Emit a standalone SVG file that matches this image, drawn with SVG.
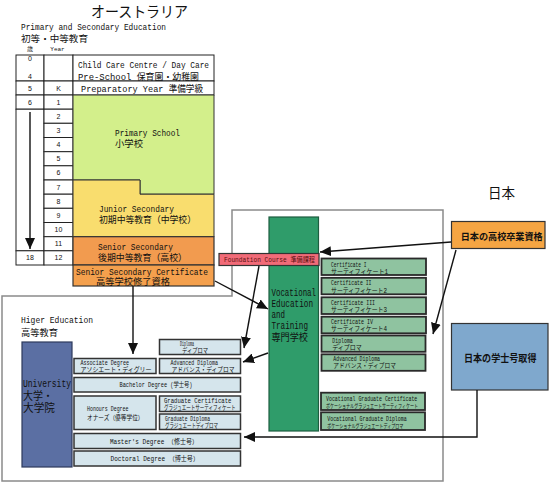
<svg xmlns="http://www.w3.org/2000/svg" width="550" height="482" viewBox="0 0 550 482">
<style>
text{font-family:"Liberation Mono","Noto Sans CJK JP",monospace;fill:#111}
.jp{font-family:"Noto Sans CJK JP",sans-serif}
.num{font-family:"Liberation Sans","Noto Sans CJK JP",sans-serif}
.tl{stroke:#222;stroke-width:1;fill:#fff}
.hb{fill:#d5e5ec;stroke:#333;stroke-width:1.5}
.cb{fill:#8fc3a0;stroke:#2a2a2a;stroke-width:1.8}
.ln{stroke:#111;stroke-width:1.4;fill:none}
.s7{font-size:7px}
.s6{font-size:6.5px}
.s9{font-size:9.5px}
.c{text-anchor:middle}
</style>
<defs>
<marker id="ah" markerUnits="userSpaceOnUse" markerWidth="11" markerHeight="10" refX="11" refY="5" orient="auto">
<path d="M0,0 L11,5 L0,10 z" fill="#111"/>
</marker>
</defs>

<!-- titles -->
<text class="jp" x="91" y="17" font-size="15" textLength="97" lengthAdjust="spacingAndGlyphs">オーストラリア</text>
<text class="s9" x="21" y="30" textLength="145" lengthAdjust="spacingAndGlyphs">Primary and Secondary Education</text>
<text class="s9" x="21" y="42" textLength="67" lengthAdjust="spacingAndGlyphs">初等・中等教育</text>
<text x="30" y="51" font-size="6" class="c">歳</text>
<text x="57.5" y="51" font-size="6" class="c">Year</text>

<!-- frames -->
<polygon points="2,296 232,296 232,210 443,210 443,481 2,481" fill="none" stroke="#8a8a8a" stroke-width="1.5"/>

<!-- age / year table -->
<g id="age-table">
<rect class="tl" x="16" y="55" width="28" height="26"/>
<rect class="tl" x="16" y="81" width="28" height="14"/>
<rect class="tl" x="16" y="95" width="28" height="14.2"/>
<rect class="tl" x="16" y="109.2" width="28" height="141.6"/>
<rect class="tl" x="16" y="250.8" width="28" height="14.2"/>
<rect class="tl" x="44" y="55" width="29" height="26"/>
<rect class="tl" x="44" y="81" width="29" height="14"/>
<rect class="tl" x="44" y="95" width="29" height="14.2"/>
<rect class="tl" x="44" y="109.2" width="29" height="14.1"/>
<rect class="tl" x="44" y="123.3" width="29" height="14.2"/>
<rect class="tl" x="44" y="137.5" width="29" height="14.2"/>
<rect class="tl" x="44" y="151.7" width="29" height="14.1"/>
<rect class="tl" x="44" y="165.8" width="29" height="14.2"/>
<rect class="tl" x="44" y="180" width="29" height="14.2"/>
<rect class="tl" x="44" y="194.2" width="29" height="14.1"/>
<rect class="tl" x="44" y="208.3" width="29" height="14.2"/>
<rect class="tl" x="44" y="222.5" width="29" height="14.2"/>
<rect class="tl" x="44" y="236.7" width="29" height="14.1"/>
<rect class="tl" x="44" y="250.8" width="29" height="14.2"/>
<g class="s7 num">
<text class="c num" x="30" y="61">0</text>
<text class="c num" x="30" y="79">4</text>
<text class="c num" x="30" y="91">5</text>
<text class="c num" x="58.5" y="91">K</text>
<text class="c num" x="30" y="104.6">6</text>
<text class="c num" x="30" y="260.4">18</text>
<text class="c num" x="58.5" y="104.6">1</text>
<text class="c num" x="58.5" y="118.8">2</text>
<text class="c num" x="58.5" y="132.9">3</text>
<text class="c num" x="58.5" y="147.1">4</text>
<text class="c num" x="58.5" y="161.3">5</text>
<text class="c num" x="58.5" y="175.4">6</text>
<text class="c num" x="58.5" y="189.6">7</text>
<text class="c num" x="58.5" y="203.8">8</text>
<text class="c num" x="58.5" y="217.9">9</text>
<text class="c num" x="58.5" y="232.1">10</text>
<text class="c num" x="58.5" y="246.3">11</text>
<text class="c num" x="58.5" y="260.4">12</text>
</g>
</g>

<g id="childcare">
<rect class="tl" x="73" y="55" width="141" height="26"/>
<text class="s9" x="78" y="68" textLength="131" lengthAdjust="spacingAndGlyphs">Child Care Centre / Day Care</text>
<text class="s9" x="78" y="79.5" textLength="121" lengthAdjust="spacingAndGlyphs">Pre-School 保育園・幼稚園</text>
</g>
<g id="preparatory">
<rect class="tl" x="73" y="81" width="141" height="14"/>
<text class="s9" x="81" y="91.5" textLength="122" lengthAdjust="spacingAndGlyphs">Preparatory Year 準備学級</text>
</g>
<g id="primary">
<path d="M73,95 H214 V194.2 H140 V180 H73 Z" fill="#d3ef8b" stroke="#333" stroke-width="1"/>
<text class="s9" x="115" y="136" textLength="65" lengthAdjust="spacingAndGlyphs">Primary School</text>
<text class="s9" x="115" y="147" textLength="28" lengthAdjust="spacingAndGlyphs">小学校</text>
</g>
<g id="junior">
<path d="M73,180 H140 V194.2 H214 V236.7 H73 Z" fill="#f9dd6e" stroke="#333" stroke-width="1"/>
<text class="s9" x="99" y="212" textLength="75" lengthAdjust="spacingAndGlyphs">Junior Secondary</text>
<text class="s9" x="99" y="223" textLength="97" lengthAdjust="spacingAndGlyphs">初期中等教育（中学校）</text>
</g>
<g id="senior">
<rect x="73" y="236.7" width="141" height="28.3" fill="#f29b4f" stroke="#333" stroke-width="1.2"/>
<text class="s9" x="98" y="249.5" textLength="75" lengthAdjust="spacingAndGlyphs">Senior Secondary</text>
<text class="s9" x="98" y="260.5" textLength="89" lengthAdjust="spacingAndGlyphs">後期中等教育（高校）</text>
</g>
<g id="ssc">
<rect x="73" y="265" width="141" height="21" fill="#f4a04d" stroke="#333" stroke-width="1.2"/>
<text class="s9" x="76" y="275" textLength="132" lengthAdjust="spacingAndGlyphs">Senior Secondary Certificate</text>
<text class="s9" x="96" y="284.5" textLength="74" lengthAdjust="spacingAndGlyphs">高等学校修了資格</text>
</g>

<!-- Higher education -->
<text class="s9" x="21" y="323" textLength="72" lengthAdjust="spacingAndGlyphs">Higer Education</text>
<text class="s9" x="21" y="336" textLength="37" lengthAdjust="spacingAndGlyphs">高等教育</text>

<g id="university">
<rect x="22" y="342" width="50" height="125" fill="#5b6fa3" stroke="#2d3a5c" stroke-width="1.2"/>
<text x="23" y="387" font-size="11" textLength="48" lengthAdjust="spacingAndGlyphs">University</text>
<text x="23" y="399.5" font-size="11" textLength="30" lengthAdjust="spacingAndGlyphs">大学・</text>
<text x="23" y="412" font-size="11" textLength="32" lengthAdjust="spacingAndGlyphs">大学院</text>
</g>
<g id="he-diploma">
<rect class="hb" x="159.5" y="339.5" width="81" height="15"/>
<text class="s6" x="180" y="346" textLength="14" lengthAdjust="spacingAndGlyphs">Diploma</text>
<text class="s6" x="182" y="353" textLength="26" lengthAdjust="spacingAndGlyphs">ディプロマ</text>
</g>
<g id="associate">
<rect class="hb" x="74" y="358.5" width="82" height="15"/>
<text class="s6" x="80.5" y="365" textLength="48.5" lengthAdjust="spacingAndGlyphs">Associate Degree</text>
<text class="s6" x="80.5" y="372" textLength="71" lengthAdjust="spacingAndGlyphs">アソシエート・ディグリー</text>
</g>
<g id="he-advdiploma">
<rect class="hb" x="159.5" y="358.5" width="81" height="15"/>
<text class="s6" x="170.5" y="365" textLength="47.5" lengthAdjust="spacingAndGlyphs">Advanced Diploma</text>
<text class="s6" x="171.5" y="372" textLength="63" lengthAdjust="spacingAndGlyphs">アドバンス・ディプロマ</text>
</g>
<g id="bachelor">
<rect class="hb" x="74" y="377.5" width="166.5" height="14.5"/>
<text class="s6" x="119.5" y="387" textLength="73" lengthAdjust="spacingAndGlyphs">Bachelor Degree (学士号)</text>
</g>
<g id="honours">
<rect class="hb" x="74" y="396" width="82" height="33.5"/>
<text class="s6" x="87" y="411" textLength="41.5" lengthAdjust="spacingAndGlyphs">Honours Degree</text>
<text class="s6" x="87" y="420" textLength="56.5" lengthAdjust="spacingAndGlyphs">オナーズ（優等学位）</text>
</g>
<g id="gradcert">
<rect class="hb" x="159.5" y="396" width="81" height="15.5"/>
<text class="s6" x="164" y="403" textLength="67.5" lengthAdjust="spacingAndGlyphs">Graduate Certificate</text>
<text class="s6" x="164" y="410" textLength="71.5" lengthAdjust="spacingAndGlyphs">グラジュエートサーティフィケート</text>
</g>
<g id="graddip">
<rect class="hb" x="159.5" y="414" width="81" height="15.5"/>
<text class="s6" x="165" y="421" textLength="45" lengthAdjust="spacingAndGlyphs">Graduate Diploma</text>
<text class="s6" x="165" y="428" textLength="53" lengthAdjust="spacingAndGlyphs">グラジュエートディプロマ</text>
</g>
<g id="masters">
<rect class="hb" x="74" y="433.5" width="166.5" height="15"/>
<text class="s6" x="110" y="443.5" textLength="88" lengthAdjust="spacingAndGlyphs">Master's Degree （修士号）</text>
</g>
<g id="doctoral">
<rect class="hb" x="74" y="451" width="166.5" height="15"/>
<text class="s6" x="110.5" y="461" textLength="88.5" lengthAdjust="spacingAndGlyphs">Doctoral Degree （博士号）</text>
</g>

<!-- Vocational -->
<g id="vet">
<rect x="269" y="217" width="49.5" height="214" fill="#2f9c6a" stroke="#1d5e40" stroke-width="1.2"/>
<text x="271.5" y="296" font-size="10.5" textLength="44.5" lengthAdjust="spacingAndGlyphs">Vocational</text>
<text x="271.5" y="307" font-size="10.5" textLength="41.5" lengthAdjust="spacingAndGlyphs">Education</text>
<text x="271.5" y="318" font-size="10.5" textLength="13.5" lengthAdjust="spacingAndGlyphs">and</text>
<text x="271.5" y="329" font-size="10.5" textLength="36.5" lengthAdjust="spacingAndGlyphs">Training</text>
<text x="271.5" y="341" font-size="10" textLength="36.5" lengthAdjust="spacingAndGlyphs">専門学校</text>
</g>
<g id="foundation">
<rect x="219" y="253.5" width="100" height="12" fill="#f26b78" stroke="#333" stroke-width="1.2"/>
<text x="224" y="262" font-size="7" style="fill:#5a1010" textLength="91" lengthAdjust="spacingAndGlyphs">Foundation Course 準備課程</text>
</g>
<g id="cert1">
<rect class="cb" x="321.5" y="258.5" width="104.5" height="16.5"/>
<text class="s6" x="331" y="266.5" textLength="35.5" lengthAdjust="spacingAndGlyphs">Certificate I</text>
<text class="s6" x="331" y="274" textLength="57" lengthAdjust="spacingAndGlyphs">サーティフィケート1</text>
</g>
<g id="cert2">
<rect class="cb" x="321.5" y="277.8" width="104.5" height="16.5"/>
<text class="s6" x="331" y="285" textLength="40.5" lengthAdjust="spacingAndGlyphs">Certificate II</text>
<text class="s6" x="331" y="292.5" textLength="56" lengthAdjust="spacingAndGlyphs">サーティフィケート2</text>
</g>
<g id="cert3">
<rect class="cb" x="321.5" y="297.3" width="104.5" height="16.7"/>
<text class="s6" x="331" y="304.5" textLength="44" lengthAdjust="spacingAndGlyphs">Certificate III</text>
<text class="s6" x="331" y="311.5" textLength="56" lengthAdjust="spacingAndGlyphs">サーティフィケート3</text>
</g>
<g id="cert4">
<rect class="cb" x="321.5" y="316.7" width="104.5" height="16.6"/>
<text class="s6" x="331" y="323.5" textLength="42" lengthAdjust="spacingAndGlyphs">Certificate IV</text>
<text class="s6" x="331" y="330.8" textLength="56" lengthAdjust="spacingAndGlyphs">サーティフィケート4</text>
</g>
<g id="vet-diploma">
<rect class="cb" x="321.5" y="335.5" width="104" height="16.3"/>
<text class="s6" x="332.3" y="342.5" textLength="20.5" lengthAdjust="spacingAndGlyphs">Diploma</text>
<text class="s6" x="332.3" y="349.8" textLength="29.5" lengthAdjust="spacingAndGlyphs">ディプロマ</text>
</g>
<g id="vet-advdiploma">
<rect class="cb" x="321.5" y="354.3" width="104" height="16.5"/>
<text class="s6" x="333.3" y="361" textLength="46.7" lengthAdjust="spacingAndGlyphs">Advanced Diploma</text>
<text class="s6" x="333.3" y="368.3" textLength="62.7" lengthAdjust="spacingAndGlyphs">アドバンス・ディプロマ</text>
</g>
<g id="vgc">
<rect class="cb" x="321" y="392.7" width="104" height="17.3"/>
<text class="s6" x="326" y="400.8" textLength="91.3" lengthAdjust="spacingAndGlyphs">Vocational Graduate Certificate</text>
<text x="326" y="407.5" font-size="5.5" textLength="92" lengthAdjust="spacingAndGlyphs">ボケーショナルグラジュエートサーティフィケート</text>
</g>
<g id="vgd">
<rect class="cb" x="321" y="412.3" width="104" height="17.7"/>
<text class="s6" x="327.3" y="420.8" textLength="79.3" lengthAdjust="spacingAndGlyphs">Vocational Graduate Diploma</text>
<text x="327.3" y="427.5" font-size="5.5" textLength="76" lengthAdjust="spacingAndGlyphs">ボケーショナルグラジュエートディプロマ</text>
</g>

<!-- Japan -->
<text class="jp" x="488" y="198" font-size="14" textLength="27" lengthAdjust="spacingAndGlyphs">日本</text>
<g id="jp-highschool">
<rect x="451.5" y="221.5" width="93.5" height="27" fill="#f5a543" stroke="#333" stroke-width="1.2"/>
<text class="jp" x="460.7" y="239.5" font-size="9.5" font-weight="bold" textLength="82" lengthAdjust="spacingAndGlyphs">日本の高校卒業資格</text>
</g>
<g id="jp-bachelor">
<rect x="451.5" y="323.5" width="96.5" height="66.5" fill="#7fa8cd" stroke="#333" stroke-width="1.2"/>
<text class="jp" x="464" y="361.5" font-size="10" font-weight="bold" textLength="72.5" lengthAdjust="spacingAndGlyphs">日本の学士号取得</text>
</g>

<!-- connectors -->
<g id="connectors" class="ln">
<line x1="30" y1="112" x2="30" y2="249" marker-end="url(#ah)"/>
<line x1="133" y1="286" x2="133" y2="354" marker-end="url(#ah)"/>
<line x1="215" y1="281" x2="268" y2="309" marker-end="url(#ah)"/>
<line x1="451" y1="242" x2="320" y2="252" marker-end="url(#ah)"/>
<line x1="456" y1="250" x2="433" y2="334" marker-end="url(#ah)"/>
<line x1="259" y1="266" x2="244" y2="348" marker-end="url(#ah)"/>
<line x1="268" y1="353" x2="243" y2="362" marker-end="url(#ah)"/>
<polyline points="477,390 477,437 244,437" marker-end="url(#ah)"/>
</g>
</svg>
